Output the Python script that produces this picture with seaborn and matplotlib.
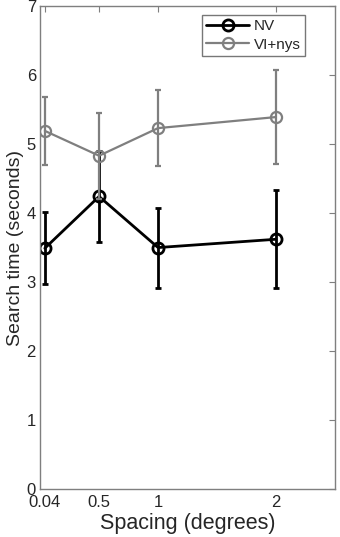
import numpy as np
import pandas as pd
import seaborn as sns
import matplotlib
matplotlib.use("Agg")
import matplotlib.pyplot as plt

# values
spacing = [0.04, 0.5, 1, 2]
nv_mean = [3.49, 4.24, 3.50, 3.62]
nv_err = [0.52, 0.66, 0.58, 0.71]
vi_mean = [5.19, 4.83, 5.23, 5.39]
vi_err = [0.49, 0.62, 0.55, 0.68]
tick_labels = ["0.04", "0.5", "1", "2"]

df = pd.DataFrame({
    "Spacing": spacing * 2,
    "Time": nv_mean + vi_mean,
    "Group": ["NV"] * 4 + ["VI+nys"] * 4,
})

sns.set_style("white")
plt.rcParams["font.family"] = ["Liberation Sans", "DejaVu Sans"]

fig = plt.figure(figsize=(3.4, 5.37), dpi=100)
ax = fig.add_axes([0.118, 0.089, 0.867, 0.9])

colors = {"NV": "black", "VI+nys": "#7f7f7f"}
errs = {"NV": nv_err, "VI+nys": vi_err}
widths = {"NV": 2.0, "VI+nys": 1.6}

for grp in ["NV", "VI+nys"]:
    sub = df[df["Group"] == grp]
    ax.errorbar(sub["Spacing"], sub["Time"], yerr=errs[grp], fmt="none",
                ecolor=colors[grp], elinewidth=widths[grp], capsize=2,
                capthick=widths[grp])
    sns.lineplot(data=sub, x="Spacing", y="Time", ax=ax, color=colors[grp],
                 linewidth=widths[grp], marker="o", markersize=8,
                 markerfacecolor="none", markeredgecolor=colors[grp],
                 markeredgewidth=widths[grp], label=grp)

ax.set_xlim(0, 2.5)
ax.set_ylim(0, 7)
ax.set_xticks(spacing)
ax.set_xticklabels(tick_labels)
ax.set_yticks(range(0, 8))
ax.tick_params(direction="in", length=4, color="#7f7f7f", labelsize=12,
               top=True, right=True)
ax.tick_params(axis="x", pad=4)
ax.tick_params(axis="y", pad=3)
for s in ax.spines.values():
    s.set_color("#7f7f7f")
    s.set_linewidth(1)
ax.set_xlabel("Spacing (degrees)", fontsize=15.5, labelpad=2)
ax.set_ylabel("Search time (seconds)", fontsize=14, labelpad=2)

leg = ax.legend(loc="upper right", bbox_to_anchor=(0.925, 0.998), fontsize=11,
                frameon=True, fancybox=False, handlelength=2.8,
                borderpad=0.3, labelspacing=0.3, handletextpad=0.3)
leg.get_frame().set_edgecolor("#555555")
leg.get_frame().set_linewidth(1)

fig.savefig("out.png", dpi=100)
